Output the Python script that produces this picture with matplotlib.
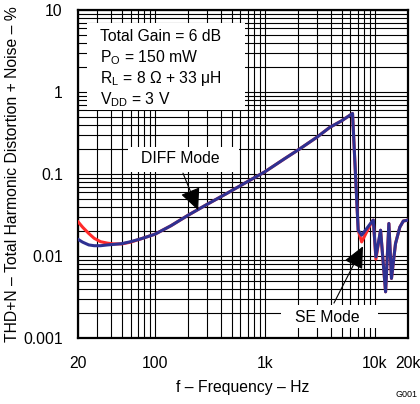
import matplotlib
matplotlib.use("Agg")
import matplotlib.pyplot as plt
from matplotlib.patches import Rectangle
from matplotlib.ticker import FixedLocator, NullFormatter

plt.rcParams["font.family"] = ["Liberation Sans", "DejaVu Sans"]
plt.rcParams["mathtext.fontset"] = "custom"
plt.rcParams["mathtext.rm"] = "Liberation Sans"

# values
freq = [20, 22, 25, 28, 32, 37, 42, 50, 60, 75, 100, 140, 200, 300, 450, 700,
        1000, 1500, 2100, 3000, 3900, 5000, 6280, 7070, 7600, 9400, 9700,
        10250, 11300, 12550, 13450, 14200, 15450, 16900, 18200, 20000]
thd_diff = [0.0160, 0.0148, 0.0137, 0.0134, 0.0134, 0.0137, 0.0139, 0.0142,
            0.0150, 0.0163, 0.0185, 0.0235, 0.0315, 0.0430, 0.0581, 0.0815,
            0.1067, 0.153, 0.205, 0.284, 0.372, 0.447, 0.549, 0.0207, 0.0180,
            0.0262, 0.0275, 0.0098, 0.0207, 0.00367, 0.0250, 0.00535, 0.0142,
            0.0225, 0.0268, 0.0275]
thd_se = [0.0262, 0.0225, 0.0189, 0.0165, 0.0150, 0.0144, 0.0141, 0.0141,
          0.0148, 0.0163, 0.0185, 0.0235, 0.0315, 0.0430, 0.0581, 0.0815,
          0.1067, 0.153, 0.205, 0.284, 0.372, 0.447, 0.549, 0.0207, 0.0149,
          0.0262, 0.0275, 0.0092, 0.0207, 0.00367, 0.0250, 0.00535, 0.0142,
          0.0225, 0.0268, 0.0275]

x_ticks = [20, 100, 1000, 10000, 20000]
x_labels = ["20", "100", "1k", "10k", "20k"]
y_ticks = [0.001, 0.01, 0.1, 1, 10]
y_labels = ["0.001", "0.01", "0.1", "1", "10"]

fig = plt.figure(figsize=(4.2, 4.04), dpi=100)
ax = fig.add_axes([0.186, 0.163, 0.785, 0.812])

ax.plot(freq, thd_se, color="#ff2a2a", lw=2.2, zorder=4)
ax.plot(freq, thd_diff, color="#2e3192", lw=2.2, zorder=5)

ax.set_xscale("log")
ax.set_yscale("log")
ax.set_xlim(20, 20000)
ax.set_ylim(0.001, 10)

minor_x = [k * 10 ** n for n in range(1, 5) for k in range(2, 10) if 20 <= k * 10 ** n <= 20000]
minor_y = [k * 10.0 ** n for n in range(-3, 1) for k in range(2, 10)]
ax.xaxis.set_major_locator(FixedLocator(x_ticks))
ax.xaxis.set_minor_locator(FixedLocator(minor_x))
ax.yaxis.set_major_locator(FixedLocator(y_ticks))
ax.yaxis.set_minor_locator(FixedLocator(minor_y))
ax.set_xticklabels(x_labels)
ax.set_yticklabels(y_labels)
ax.xaxis.set_minor_formatter(NullFormatter())
ax.yaxis.set_minor_formatter(NullFormatter())
ax.tick_params(which="both", length=0, labelsize=11.3)
ax.tick_params(axis="x", pad=13)
ax.tick_params(axis="y", pad=11)
ax.grid(which="both", color="black", lw=0.8, zorder=1)
ax.set_axisbelow(True)
for s in ax.spines.values():
    s.set_linewidth(1.6)

ax.set_xlabel("f \u2013 Frequency \u2013 Hz", fontsize=11.3, labelpad=6)
ax.set_ylabel("THD+N \u2013 Total Harmonic Distortion + Noise \u2013 %", fontsize=11.3, labelpad=2)

# condition box
ax.add_patch(Rectangle((0.027, 0.695), 0.479, 0.265, transform=ax.transAxes,
                       facecolor="white", edgecolor="none", zorder=2))
lines = ["Total Gain = 6 dB", "P$_\\mathrm{O}$ = 150 mW",
         "R$_\\mathrm{L}$ = 8 \u03a9 + 33 \u03bcH", "V$_\\mathrm{DD}$ = 3 V"]
for i, t in enumerate(lines):
    ax.text(0.067, 0.918 - i * 0.064, t, transform=ax.transAxes, fontsize=11.3,
            va="center", ha="left", zorder=3)

# mode labels
ax.add_patch(Rectangle((0.152, 0.506), 0.336, 0.076, transform=ax.transAxes,
                       facecolor="white", edgecolor="none", zorder=2))
ax.add_patch(Rectangle((0.615, 0.030), 0.294, 0.071, transform=ax.transAxes,
                       facecolor="white", edgecolor="none", zorder=2))
ax.text(0.309, 0.548, "DIFF Mode", transform=ax.transAxes, fontsize=11.3,
        ha="center", va="center", zorder=3)
ax.text(0.755, 0.063, "SE Mode", transform=ax.transAxes, fontsize=11.3,
        ha="center", va="center", zorder=3)
arrow = dict(arrowstyle="-|>,head_length=0.9,head_width=0.42", mutation_scale=15,
             color="black", lw=0.8, shrinkA=0, shrinkB=0)
ax.annotate("", xy=(0.364, 0.390), xytext=(0.318, 0.503), xycoords="axes fraction",
            arrowprops=arrow, zorder=6)
ax.annotate("", xy=(0.864, 0.280), xytext=(0.776, 0.107), xycoords="axes fraction",
            arrowprops=arrow, zorder=6)

fig.text(0.993, 0.012, "G001", fontsize=6.5, ha="right", va="bottom")

fig.savefig("out.png", dpi=100)
